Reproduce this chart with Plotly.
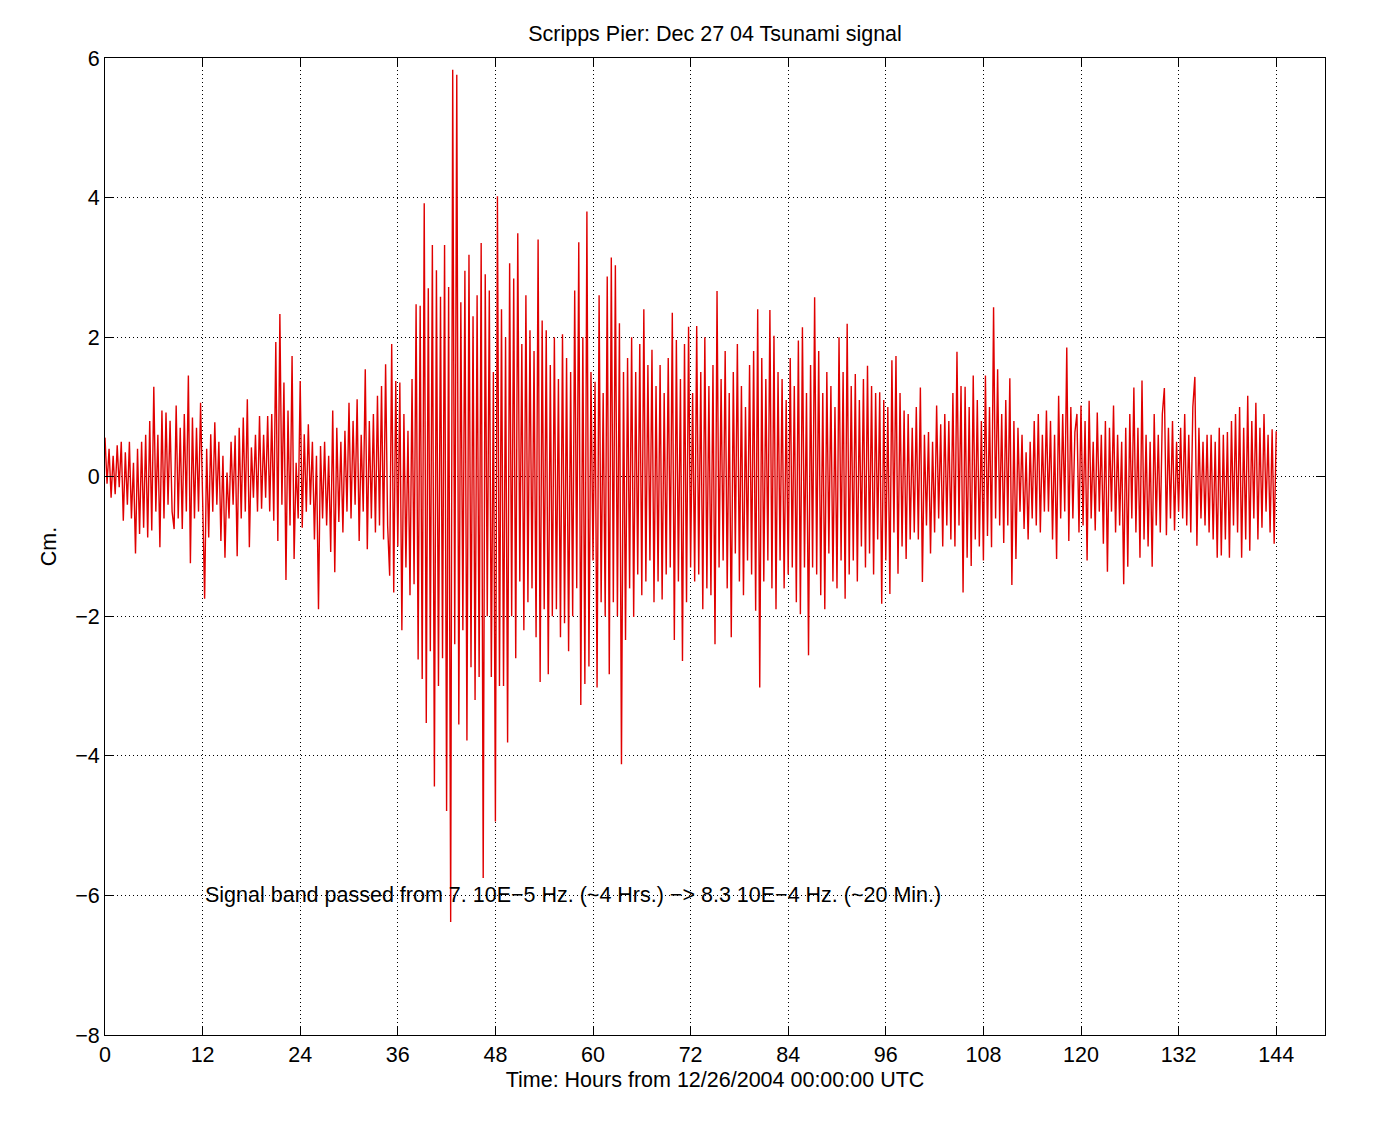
import numpy as np
import plotly.graph_objects as go

# Sample spacing of the read-off trace (hours)
sample_step_hr = 0.25

# Band-passed sea level (cm), 4 samples per hour
seg_00_12 = [
    0.56, -0.1, 0.4, -0.3,   0.3, -0.25, 0.45, -0.15,   0.5, -0.63, 0.35, -0.4,
    0.5, -0.6, 0.2, -1.1,    0.4, -0.82, 0.5, -0.73,    0.6, -0.87, 0.8, -0.77,
    1.29, -0.5, 0.6, -1.01,  0.95, -0.6, 0.92, -0.4,    0.8, -0.5, -0.75, 1.02,
    -0.6, 0.7, -0.75, 0.9,   -0.5, 1.45, -1.24, 0.85,   -0.6, 0.7, -0.5, 1.06,
]
seg_12_24 = [
    -0.3, -1.75, 0.4, -0.87, 0.61, -0.5, 0.78, -0.4,    0.5, -0.92, 0.3, -1.16,
    0.06, -0.6, 0.5, -0.4,   0.59, -1.14, 0.7, -0.6,    0.85, -0.5, 1.11, -1.01,
    0.42, -0.3, 0.6, -0.5,   0.87, -0.46, 0.6, -0.3,    0.87, -0.5, 0.9, -0.63,
    1.93, -0.92, 2.33, -0.4, 1.35, -1.48, 0.95, -0.7,   1.73, -1.18, 0.2, -0.6,
]
seg_24_36 = [
    1.37, -0.73, 0.61, -0.5, 0.75, -0.4, 0.5, -0.9,    0.3, -1.9, 0.44, -0.6,
    0.5, -0.7, 0.3, -1.08,   0.95, -1.37, 0.7, -0.65,  0.5, -0.8, 0.66, -0.5,
    1.06, -0.6, 0.8, -0.4,   1.11, -0.92, 0.6, -0.5,   1.54, -1.04, 0.8, -0.6,
    0.9, -0.8, 1.16, -0.7,   1.3, -0.9, 1.61, -0.7,    -1.42, 1.9, -1.66, 1.37,
]
seg_36_48 = [
    -1.0, 1.35, -2.2, 0.9,   -1.3, 0.66, -1.7, 1.4,    -1.54, 2.47, -2.62, 2.45,
    -2.9, 3.92, -3.53, 2.7,  -2.5, 3.32, -4.44, 2.96,  -3.0, 2.58, -2.6, 3.32,
    -4.79, 2.72, -6.38, 5.83, -2.4, 5.76, -3.55, 2.5,  -2.2, 2.95, -3.78, 3.18,
    -2.73, 2.3, -3.2, 2.6,   -2.87, 3.35, -5.75, 2.9,  -2.0, 2.67, -2.87, 1.5,
]
seg_48_60 = [
    -4.94, 4.02, -3.0, 2.4,  -3.0, 2.0, -3.81, 3.06,   -2.0, 2.84, -2.6, 3.49,
    -1.5, 1.9, -2.2, 2.6,    -1.8, 2.1, -1.6, 1.8,     -2.3, 3.4, -2.94, 2.24,
    -1.9, 2.1, -2.83, 1.6,   -2.0, 2.0, -1.9, 1.4,     -2.3, 2.04, -2.1, 1.7,
    -2.5, 1.5, -2.0, 2.67,   -1.6, 3.36, -3.27, 2.0,   -2.97, 3.8, -2.72, 1.5,
]
seg_60_72 = [
    -1.2, 1.36, -3.02, 2.6,  -1.8, 1.2, -2.0, 2.87,    -2.83, 3.14, -1.8, 3.03,
    -2.0, 2.2, -4.12, 1.5,   -2.34, 1.7, -1.6, 2.0,    -2.01, 1.5, -1.4, 1.9,
    -1.7, 2.4, -1.5, 1.6,    -1.2, 1.82, -1.8, 1.3,    -1.5, 1.6, -1.76, 1.2,
    -1.4, 1.7, -1.3, 2.35,   -2.34, 1.96, -1.5, 1.4,   -2.64, 1.9, -1.8, 2.15,
]
seg_72_84 = [
    -1.3, 1.2, -1.5, 2.16,   -1.4, 1.5, -1.9, 2.0,     -1.6, 1.3, -1.7, 1.6,
    -2.4, 2.66, -1.3, 1.4,   -1.2, 1.8, -1.6, 1.2,     -2.3, 1.5, -1.1, 1.9,
    -1.5, 1.3, -1.7, 1.0,    -1.2, 1.6, -1.4, 1.8,     -1.92, 2.4, -3.02, 1.7,
    -1.5, 1.4, -1.2, 2.39,   -1.6, 2.02, -1.9, 1.5,    -1.2, 1.4, -1.6, 1.1,
]
seg_84_96 = [
    -1.4, 1.7, -1.3, 1.3,    -1.8, 1.95, -1.97, 2.14,  -1.3, 1.2, -2.56, 1.6,
    -1.3, 2.57, -1.4, 1.8,   -1.7, 1.2, -1.9, 1.5,     -1.1, 1.3, -1.5, 1.0,
    -1.6, 2.0, -1.2, 1.5,    -1.75, 2.19, -1.4, 1.3,   -1.2, 1.47, -1.5, 1.1,
    -1.0, 1.4, -1.3, 1.59,   -1.1, 1.3, -1.4, 1.2,     -0.9, 1.21, -1.82, 1.1,
]
seg_96_108 = [
    -1.2, 1.0, -1.68, 1.67,  -0.8, 1.73, -1.39, 1.2,   -1.0, 0.95, -1.18, 0.9,
    -0.9, 0.7, -0.8, 1.0,    -0.9, 1.28, -1.51, 0.6,   -0.7, 0.64, -1.1, 0.5,
    -0.8, 1.02, -0.6, 0.75,  -1.0, 0.9, -0.7, 0.8,     -0.9, 1.2, -1.0, 1.79,
    -0.7, 1.3, -1.66, 1.29,  -1.16, 1.0, -1.28, 1.45,  -0.9, 1.1, -1.0, 0.8,
]
seg_108_120 = [
    -1.2, 1.45, -0.85, 1.0,  -1.01, 2.43, -0.6, 1.54,  -0.7, 0.9, -0.95, 1.1,
    -0.7, 1.41, -1.55, 0.8,  -1.18, 0.7, -0.5, 0.6,    -0.75, 0.35, -0.9, 0.5,
    -0.6, 0.8, -0.7, 0.9,    -0.8, 0.6, -0.5, 0.95,    -0.5, 0.8, -0.9, 0.6,
    -1.18, 1.16, -0.6, 0.9,  -0.5, 1.85, -0.92, 1.0,   -0.6, 0.64, 0.9, -0.8,
]
seg_120_132 = [
    1.02, -0.7, 0.8, -1.2,   1.09, -0.6, 0.5, -0.77,   0.92, -0.5, 0.6, -0.96,
    0.8, -1.36, 0.7, -0.5,   1.02, -0.8, 0.6, -0.7,    0.5, -1.54, 0.7, -1.29,
    0.9, -0.6, 1.28, -0.8,   0.7, -1.16, 1.38, -0.9,   0.6, -1.0, 0.5, -1.29,
    0.9, -0.7, 0.6, -0.8,    0.9, 1.27, -0.84, 0.7,    -0.6, 0.8, -0.77, 0.5,
]
seg_132_144 = [
    -0.5, 0.7, -0.6, 0.9,    -0.7, 0.6, -0.8, 1.0,     1.43, -0.99, 0.7, -0.6,
    0.5, -0.7, 0.6, -0.8,    0.6, -0.9, 0.5, -1.16,    0.7, -1.13, 0.6, -0.9,
    0.64, -1.16, 0.8, -0.7,  0.9, -0.8, 1.0, -1.16,    0.7, -0.9, 1.16, -1.06,
    0.8, -0.6, 1.06, -0.9,   0.7, -0.73, 0.9, -0.5,    0.6, -0.8, 0.68, -0.96,
    0.65,
]

cm = (seg_00_12 + seg_12_24 + seg_24_36 + seg_36_48 + seg_48_60 + seg_60_72
      + seg_72_84 + seg_84_96 + seg_96_108 + seg_108_120 + seg_120_132 + seg_132_144)
hours = np.arange(len(cm)) * sample_step_hr

x_ticks = [0, 12, 24, 36, 48, 60, 72, 84, 96, 108, 120, 132, 144]
y_ticks = [-8, -6, -4, -2, 0, 2, 4, 6]

title_text = "Scripps Pier: Dec 27 04 Tsunami signal"
x_title = "Time: Hours from 12/26/2004 00:00:00 UTC"
y_title = "Cm."
note_text = "Signal band passed from 7. 10E\u22125 Hz. (~4 Hrs.) \u2212> 8.3 10E\u22124 Hz. (~20 Min.)"
note_x, note_y = 12, -6

FONT = "Liberation Sans, Arial, Helvetica, sans-serif"
FS = 21.5

fig = go.Figure()
fig.add_trace(go.Scatter(
    x=hours, y=cm, mode="lines",
    line=dict(color="#e00000", width=1.4),
    hoverinfo="skip", showlegend=False,
))

axis_common = dict(
    showline=True, linecolor="black", linewidth=1, mirror="ticks",
    ticks="inside", ticklen=9, tickcolor="black", tickwidth=1,
    showgrid=True, gridcolor="black", griddash="1px,3px", gridwidth=1,
    zeroline=False, tickfont=dict(family=FONT, size=FS, color="black"),
)

fig.update_layout(
    width=1390, height=1131,
    margin=dict(l=105, r=65, t=58, b=96),
    paper_bgcolor="white", plot_bgcolor="white",
    font=dict(family=FONT, size=FS, color="black"),
    title=dict(text=title_text, x=(105 + 1325) / 2 / 1390, xanchor="center",
               y=1 - 33 / 1131, yanchor="middle",
               font=dict(family=FONT, size=FS, color="black")),
    xaxis=dict(range=[0, 150], tickvals=x_ticks,
               title=dict(text=x_title, standoff=6,
                          font=dict(family=FONT, size=FS)),
               **axis_common),
    yaxis=dict(range=[-8, 6], tickvals=y_ticks,
               title=dict(text=y_title, standoff=12,
                          font=dict(family=FONT, size=FS)),
               **axis_common),
    annotations=[dict(x=note_x, y=note_y, xref="x", yref="y", text=note_text,
                      showarrow=False, xanchor="left", yanchor="middle",
                      font=dict(family=FONT, size=FS, color="black"))],
)

fig.write_html("out.html")
